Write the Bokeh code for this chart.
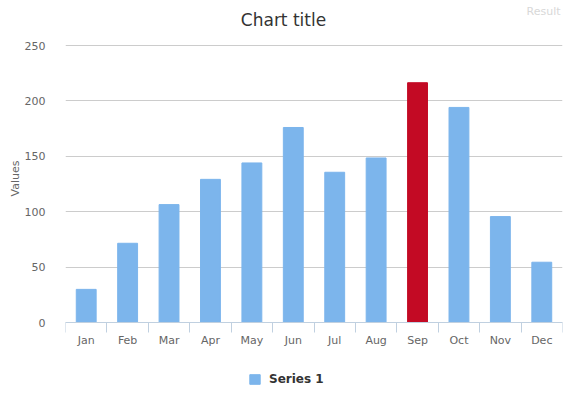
from bokeh.plotting import figure
from bokeh.models import (Range1d, FixedTicker, Legend, LegendItem,
                          ColumnDataSource, Label, Title)
from bokeh.embed import file_html
from bokeh.resources import INLINE

months = ["Jan", "Feb", "Mar", "Apr", "May", "Jun", "Jul", "Aug", "Sep", "Oct", "Nov", "Dec"]
values = [29.9, 71.5, 106.4, 129.2, 144.0, 176.0, 135.6, 148.5, 216.4, 194.1, 95.6, 54.4]
highlight = "Sep"
y_ticks = [0, 50, 100, 150, 200, 250]
series_name = "Series 1"
chart_title = "Chart title"
y_title = "Values"

FONT = "DejaVu Sans"
BLUE = "#7CB5EC"
RED = "#C30A24"

W, H = 577, 398
FRAME_LEFT, FRAME_RIGHT = 65, 562
PLOT_TOP, PLOT_BOTTOM = 45, 322   # pixel rows of y=250 and y=0
px_per_unit = (PLOT_BOTTOM - PLOT_TOP) / 250
y_lo = -(H - PLOT_BOTTOM) / px_per_unit
y_hi = 250 + PLOT_TOP / px_per_unit

xs = [i + 0.5 for i in range(len(months))]
colors = [RED if m == highlight else BLUE for m in months]
src = ColumnDataSource(dict(x=xs, top=values, color=colors, month=months))

p = figure(width=W, height=H, output_backend="svg", toolbar_location=None,
           x_range=Range1d(0, len(months)), y_range=Range1d(y_lo, y_hi),
           min_border_left=FRAME_LEFT, min_border_right=W - FRAME_RIGHT,
           min_border_top=0, min_border_bottom=0)
p.outline_line_color = None
p.background_fill_color = "white"
p.border_fill_color = "white"
p.title.visible = False

r = p.vbar(x="x", top="top", width=0.48, color="color", source=src)

# y axis
yax = p.yaxis[0]
yax.ticker = FixedTicker(ticks=y_ticks)
yax.axis_line_color = None
yax.major_tick_line_color = None
yax.minor_tick_line_color = None
yax.major_label_standoff = 14
yax.major_label_text_font = FONT
yax.major_label_text_font_size = "11px"
yax.major_label_text_color = "#666666"

ytitle = Title(text=y_title, align="right", offset=160, text_font=FONT,
               text_font_size="11px", text_font_style="normal", text_color="#666666",
               standoff=0)
p.add_layout(ytitle, "left")

p.ygrid.ticker = FixedTicker(ticks=y_ticks)
p.ygrid.grid_line_color = "#CCCCCC"
p.xgrid.grid_line_color = None

# x axis drawn at y=0: labels at centres, tick marks at category boundaries
xax = p.xaxis[0]
xax.fixed_location = 0
xax.ticker = FixedTicker(ticks=xs, minor_ticks=list(range(len(months) + 1)))
xax.major_label_overrides = {x: m for x, m in zip(xs, months)}
xax.axis_line_color = "#C0D0E0"
xax.major_tick_line_color = None
xax.minor_tick_line_color = "#C0D0E0"
xax.minor_tick_out = 10
xax.minor_tick_in = 0
xax.major_tick_out = 0
xax.major_tick_in = 0
xax.major_label_standoff = 1
xax.major_label_text_font = FONT
xax.major_label_text_font_size = "11px"
xax.major_label_text_color = "#666666"

legend = Legend(items=[LegendItem(label=series_name, renderers=[r])],
                orientation="horizontal", location=(183, 12))
legend.glyph_width = 13
legend.glyph_height = 12
legend.label_height = 12
legend.label_text_font = FONT
legend.label_text_font_size = "12px"
legend.label_text_font_style = "bold"
legend.label_text_color = "#333333"
legend.border_line_color = None
legend.background_fill_alpha = 0
legend.padding = 0
legend.margin = 0
legend.label_standoff = 8
p.add_layout(legend, "center")

p.add_layout(Label(x=218, y=H - 19, x_units="screen", y_units="screen", text=chart_title,
                   text_align="center", text_baseline="middle",
                   text_font=FONT, text_font_size="17px", text_color="#333333"))
p.add_layout(Label(x=478, y=H - 11, x_units="screen", y_units="screen", text="Result",
                   text_align="center", text_baseline="middle",
                   text_font=FONT, text_font_size="11px", text_color="#D8D8D8"))

open("out.html", "w").write(file_html(p, INLINE))
